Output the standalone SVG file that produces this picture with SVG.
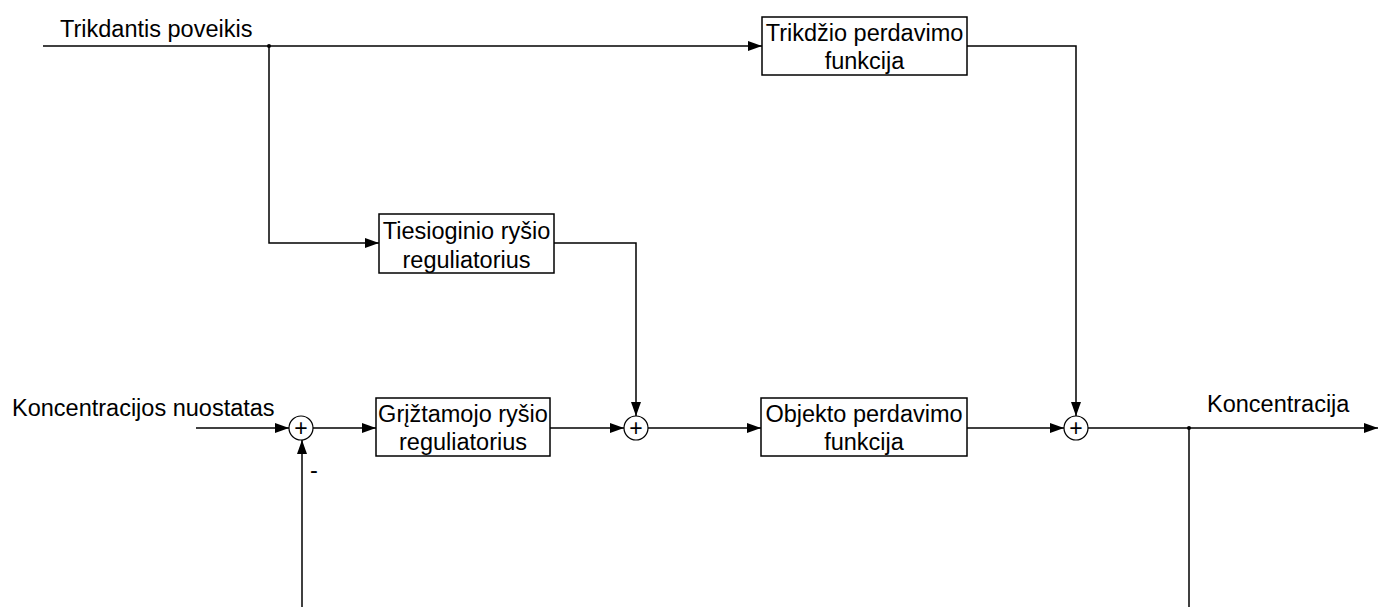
<svg xmlns="http://www.w3.org/2000/svg" width="1378" height="607" viewBox="0 0 1378 607">
<defs>
<marker id="arr" markerWidth="14" markerHeight="10" refX="14" refY="5" orient="auto" markerUnits="userSpaceOnUse">
<path d="M0,0 L14,5 L0,10 Z" fill="#000"/>
</marker>
<style>
.box{fill:#fff;stroke:#000;stroke-width:1.5}
.sum{fill:#fff;stroke:#000;stroke-width:1.2}
.ln{fill:none;stroke:#000;stroke-width:1.5}
.t{font-family:"Liberation Sans",Arial,sans-serif;font-size:23.5px;fill:#000}
.tc{font-family:"Liberation Sans",Arial,sans-serif;font-size:23.5px;fill:#000;text-anchor:middle}
.p{font-family:"Liberation Sans",Arial,sans-serif;font-size:23px;fill:#000;text-anchor:middle}
</style>
</defs>
<rect width="1378" height="607" fill="#fff"/>
<g id="connectors">
<path class="ln" d="M43,46 H762" marker-end="url(#arr)"/>
<path class="ln" d="M269,46 V243 H379" marker-end="url(#arr)"/>
<path class="ln" d="M967,46 H1076 V416" marker-end="url(#arr)"/>
<path class="ln" d="M554,243 H636 V416" marker-end="url(#arr)"/>
<path class="ln" d="M196,428 H289" marker-end="url(#arr)"/>
<path class="ln" d="M313,428 H376" marker-end="url(#arr)"/>
<path class="ln" d="M550,428 H624" marker-end="url(#arr)"/>
<path class="ln" d="M648,428 H761" marker-end="url(#arr)"/>
<path class="ln" d="M967,428 H1064" marker-end="url(#arr)"/>
<path class="ln" d="M1088,428 H1378" marker-end="url(#arr)"/>
<path class="ln" d="M1189,428 V607"/>
<path class="ln" d="M302,607 V440" marker-end="url(#arr)"/>
<circle cx="269" cy="46" r="2" fill="#000"/>
<circle cx="1189" cy="428" r="2" fill="#000"/>
</g>
<g id="label-trikdantis"><text class="t" x="60" y="37">Trikdantis poveikis</text></g>
<g id="label-nuostatas"><text class="t" x="12" y="416">Koncentracijos nuostatas</text></g>
<g id="label-koncentracija"><text class="t" x="1207" y="412">Koncentracija</text></g>
<g id="label-minus"><text class="t" x="310" y="478">-</text></g>
<g id="node-trikdzio">
<rect class="box" x="762" y="17" width="205" height="58"/>
<text class="tc" x="864.5" y="41">Trikdžio perdavimo</text>
<text class="tc" x="864.5" y="69">funkcija</text>
</g>
<g id="node-tiesioginio">
<rect class="box" x="379" y="214" width="175" height="59"/>
<text class="tc" x="466.5" y="239">Tiesioginio ryšio</text>
<text class="tc" x="466.5" y="268">reguliatorius</text>
</g>
<g id="node-grizt">
<rect class="box" x="376" y="398" width="174" height="58"/>
<text class="tc" x="463" y="422">Grįžtamojo ryšio</text>
<text class="tc" x="463" y="450">reguliatorius</text>
</g>
<g id="node-objekto">
<rect class="box" x="761" y="398" width="206" height="58"/>
<text class="tc" x="864" y="422">Objekto perdavimo</text>
<text class="tc" x="864" y="450">funkcija</text>
</g>
<g id="sum1"><circle class="sum" cx="301" cy="428" r="12"/><text class="p" x="301" y="436">+</text></g>
<g id="sum2"><circle class="sum" cx="636" cy="428" r="12"/><text class="p" x="636" y="436">+</text></g>
<g id="sum3"><circle class="sum" cx="1076" cy="428" r="12"/><text class="p" x="1076" y="436">+</text></g>
</svg>
